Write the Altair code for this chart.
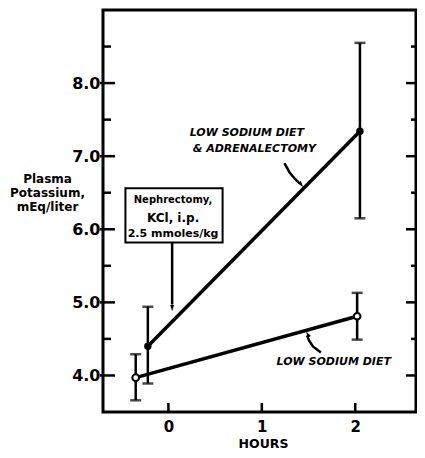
import altair as alt
import pandas as pd

# ---- data ----
series = ["LOW SODIUM DIET", "LOW SODIUM DIET", "ADRENALECTOMY", "ADRENALECTOMY"]
hours = [-0.35, 2.02, -0.22, 2.05]
potassium = [3.97, 4.81, 4.40, 7.34]
err_lo = [3.66, 4.49, 3.89, 6.15]
err_hi = [4.29, 5.13, 4.94, 8.55]
filled = [False, False, True, True]

y_major = [4.0, 5.0, 6.0, 7.0, 8.0]
y_minor = [4.5, 5.5, 6.5, 7.5, 8.5]
x_major = [0, 1, 2]

# annotation box (data coords)
box_x = [-0.46]
box_x2 = [0.58]
box_y = [6.56]
box_y2 = [5.82]
box_lines = ["Nephrectomy,", "KCl, i.p.", "2.5 mmoles/kg"]
box_line_y = [6.40, 6.15, 5.93]
box_line_size = [10, 12, 11]
box_text_x = 0.05

# arrows (data coords)
arrow_box_x = [0.04, 0.04]
arrow_box_y = [5.82, 4.97]
arrow_box_tip = (0.04, 4.877, 0)

arrow_adr_x = [1.242, 1.295, 1.358, 1.40]
arrow_adr_y = [6.904, 6.781, 6.685, 6.63]
arrow_adr_tip = (1.442, 6.575, 323)

arrow_low_x = [1.632, 1.547, 1.505, 1.484]
arrow_low_y = [4.315, 4.397, 4.479, 4.548]
arrow_low_tip = (1.474, 4.603, 150)

label_text = ["LOW SODIUM DIET", "& ADRENALECTOMY", "LOW SODIUM DIET"]
label_x = [0.84, 0.92, 1.77]
label_y = [7.32, 7.10, 4.18]

FONT = "DejaVu Sans"
W, H = 313, 402
xs = alt.Scale(domain=[-0.7, 2.65], nice=False, zero=False)
ys = alt.Scale(domain=[3.5, 9.0], nice=False, zero=False)

df = pd.DataFrame({"series": series, "hours": hours, "k": potassium,
                   "lo": err_lo, "hi": err_hi, "filled": filled})

X = alt.X("hours:Q", scale=xs,
          axis=alt.Axis(values=x_major, format="d", ticks=False, domain=False, grid=False,
                        labelFontSize=15, labelFontWeight="bold", labelFont=FONT,
                        labelPadding=7, labelColor="black",
                        title="HOURS", titleFont=FONT, titleFontSize=12.5,
                        titleFontWeight="bold", titleColor="black",
                        titleBaseline="alphabetic", titleX=160, titleY=35))
Y = alt.Y("k:Q", scale=ys,
          axis=alt.Axis(values=y_major, format=".1f", ticks=False, domain=False, grid=False,
                        labelFontSize=16, labelFontWeight="bold", labelFont=FONT,
                        labelPadding=3, labelColor="black",
                        title=["Plasma", "Potassium,", "mEq/liter"], titleAngle=0,
                        titleFont=FONT, titleFontSize=12, titleFontWeight="bold",
                        titleColor="black", titleAlign="center", titleBaseline="top",
                        titleX=-56, titleY=163, titleLineHeight=14))

base = alt.Chart(df)
lines = base.mark_line(color="black", strokeWidth=3.5).encode(x=X, y=Y, detail="series:N")
bars = base.mark_rule(color="black", strokeWidth=2.5).encode(
    x=alt.X("hours:Q", scale=xs), y=alt.Y("lo:Q", scale=ys), y2="hi:Q")
cap_lo = base.mark_tick(color="black", orient="horizontal", size=11, thickness=2.5).encode(
    x=alt.X("hours:Q", scale=xs), y=alt.Y("lo:Q", scale=ys))
cap_hi = base.mark_tick(color="black", orient="horizontal", size=11, thickness=2.5).encode(
    x=alt.X("hours:Q", scale=xs), y=alt.Y("hi:Q", scale=ys))
pts_open = base.transform_filter("!datum.filled").mark_point(
    shape="circle", size=45, filled=True, fill="white", stroke="black", strokeWidth=2, opacity=1
).encode(x=alt.X("hours:Q", scale=xs), y=alt.Y("k:Q", scale=ys))
pts_fill = base.transform_filter("datum.filled").mark_point(
    shape="circle", size=55, filled=True, color="black", opacity=1
).encode(x=alt.X("hours:Q", scale=xs), y=alt.Y("k:Q", scale=ys))

# inward ticks drawn from tick value lists
tick_df = pd.DataFrame({"v": y_major + y_minor,
                        "major": [True] * len(y_major) + [False] * len(y_minor)})
left_major = alt.Chart(tick_df).transform_filter("datum.major").mark_rule(
    color="black", strokeWidth=2.5).encode(y=alt.Y("v:Q", scale=ys), x=alt.value(-3), x2=alt.value(12))
left_minor = alt.Chart(tick_df).transform_filter("!datum.major").mark_rule(
    color="black", strokeWidth=2.5).encode(y=alt.Y("v:Q", scale=ys), x=alt.value(0), x2=alt.value(8))
right_major = alt.Chart(tick_df).transform_filter("datum.major").mark_rule(
    color="black", strokeWidth=2.5).encode(y=alt.Y("v:Q", scale=ys), x=alt.value(W), x2=alt.value(W - 10))
right_minor = alt.Chart(tick_df).transform_filter("!datum.major").mark_rule(
    color="black", strokeWidth=2.5).encode(y=alt.Y("v:Q", scale=ys), x=alt.value(W), x2=alt.value(W - 5))
xt_df = pd.DataFrame({"v": x_major})
x_ticks = alt.Chart(xt_df).mark_rule(color="black", strokeWidth=2.5).encode(
    x=alt.X("v:Q", scale=xs), y=alt.value(H), y2=alt.value(H - 9))

# annotation box
box_df = pd.DataFrame({"x": box_x, "x2": box_x2, "y": box_y, "y2": box_y2})
box = alt.Chart(box_df).mark_rect(fill="white", stroke="black", strokeWidth=2).encode(
    x=alt.X("x:Q", scale=xs), x2="x2:Q", y=alt.Y("y:Q", scale=ys), y2="y2:Q")
bt_df = pd.DataFrame({"t": box_lines, "y": box_line_y, "s": box_line_size,
                      "x": [box_text_x] * len(box_lines)})
box_text = alt.Chart(bt_df).mark_text(font=FONT, fontWeight="bold", color="black",
                                      align="center", baseline="middle").encode(
    x=alt.X("x:Q", scale=xs), y=alt.Y("y:Q", scale=ys), text="t:N",
    size=alt.Size("s:Q", scale=None, legend=None))

# arrows
def arrow_line(xv, yv, name):
    return pd.DataFrame({"x": xv, "y": yv, "o": list(range(len(xv))), "a": [name] * len(xv)})

arr_df = pd.concat([arrow_line(arrow_box_x, arrow_box_y, "box"),
                    arrow_line(arrow_adr_x, arrow_adr_y, "adr"),
                    arrow_line(arrow_low_x, arrow_low_y, "low")])
arrows = alt.Chart(arr_df).mark_line(color="black", strokeWidth=2.5).encode(
    x=alt.X("x:Q", scale=xs), y=alt.Y("y:Q", scale=ys), order="o:Q", detail="a:N")
tips = [arrow_box_tip, arrow_adr_tip, arrow_low_tip]
tip_df = pd.DataFrame({"x": [t[0] for t in tips], "y": [t[1] for t in tips],
                       "ang": [t[2] for t in tips]})
heads = alt.Chart(tip_df).mark_point(shape="M-0.6,-2L0.6,-2L0,0Z", size=40, filled=True,
                                     color="black", opacity=1).encode(
    x=alt.X("x:Q", scale=xs), y=alt.Y("y:Q", scale=ys), angle=alt.Angle("ang:Q", scale=None))

lab_df = pd.DataFrame({"t": label_text, "x": label_x, "y": label_y})
labels = alt.Chart(lab_df).mark_text(font=FONT, fontWeight="bold", fontStyle="italic",
                                     fontSize=11, color="black", align="center",
                                     baseline="middle").encode(
    x=alt.X("x:Q", scale=xs), y=alt.Y("y:Q", scale=ys), text="t:N")

chart = alt.layer(
    lines, bars, cap_lo, cap_hi, pts_open, pts_fill,
    left_major, left_minor, right_major, right_minor, x_ticks,
    arrows, heads, box, box_text, labels
).properties(
    width=W, height=H, autosize=alt.AutoSizeParams(type="none"),
    padding={"left": 95, "top": 2, "right": 1, "bottom": 38},
    background="white"
).configure_view(stroke="black", strokeWidth=3)

chart.save("out.html", embed_options={"renderer": "svg", "actions": False})
